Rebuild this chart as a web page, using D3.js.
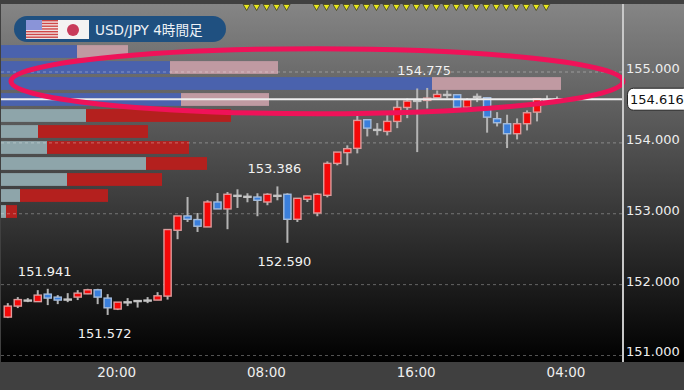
<!DOCTYPE html>
<html>
<head>
<meta charset="utf-8">
<script src="https://cdn.jsdelivr.net/npm/d3@7"></script>
<style>
  html, body { margin: 0; padding: 0; background: #3d3d3d; overflow: hidden; }
  svg { display: block; }
  text { font-family: "DejaVu Sans", "Noto Sans CJK JP", sans-serif; }
</style>
</head>
<body>
<div id="chart"></div>
<script>
// candles, oldest first
var opens = [151.542,151.697,151.782,151.760,151.866,151.824,151.796,151.824,151.870,151.927,151.810,151.655,151.757,151.775,151.782,151.782,151.838,152.767,152.969,152.918,152.814,153.166,153.068,153.260,153.246,153.236,153.166,153.260,153.275,152.922,153.204,153.011,153.260,153.711,153.862,153.923,154.327,154.190,154.162,154.303,154.500,154.599,154.599,154.637,154.683,154.679,154.504,154.655,154.637,154.341,154.270,154.129,154.270,154.434,154.613,154.616];
var highs = [151.739,151.824,151.810,151.922,151.941,151.852,151.880,151.922,151.941,151.941,151.866,151.753,151.810,151.782,151.824,151.894,152.777,152.969,153.236,153.011,153.190,153.293,153.307,153.345,153.289,153.289,153.289,153.386,153.289,153.218,153.251,153.289,153.739,153.870,153.965,154.387,154.327,154.279,154.401,154.599,154.627,154.768,154.775,154.739,154.739,154.679,154.631,154.697,154.645,154.434,154.397,154.345,154.458,154.627,154.669,154.655];
var lows = [151.528,151.669,151.753,151.760,151.711,151.725,151.753,151.782,151.866,151.725,151.572,151.641,151.697,151.676,151.739,151.782,151.789,152.641,152.884,152.743,152.814,153.068,152.782,153.082,153.162,152.965,153.120,153.190,152.590,152.884,153.166,152.965,153.232,153.683,153.683,153.852,154.091,154.105,154.105,154.208,154.349,153.870,154.486,154.637,154.627,154.504,154.482,154.575,154.144,154.232,153.927,154.049,154.176,154.303,154.538,154.599];
var closes = [151.697,151.789,151.782,151.852,151.810,151.782,151.796,151.880,151.927,151.824,151.673,151.753,151.757,151.775,151.782,151.842,152.777,152.969,152.922,152.824,153.166,153.068,153.275,153.260,153.246,153.190,153.275,153.260,152.922,153.218,153.251,153.275,153.711,153.870,153.918,154.317,154.208,154.190,154.303,154.500,154.589,154.599,154.631,154.683,154.683,154.504,154.608,154.655,154.363,154.284,154.129,154.270,154.425,154.622,154.613,154.616];

// order book bars, top row first
var buyDepth = [76,169,431,180,85,37,46,145,66,19,5];
var sellDepth = [51,108,129,88,145,110,142,61,95,88,11];
var rowsAbovePrice = 4;

var priceTicks = [155,154,153,152,151];
var timeTickIdx = [11,26,41,56];
var timeTickLabels = ["20:00","08:00","16:00","04:00"];
var currentPrice = 154.616;

// high / low call-outs
var calloutIdx = [42,27,28,4,10];
var calloutPrice = [154.775,153.386,152.590,151.941,151.572];
var calloutIsHigh = [true,true,false,true,false];

// candles with the yellow marker on top
var markerIdx = [24,25,26,27,28,31,32,33,34,35,36,37,38,39,40,41,42,43,44,45,46,47,48,49,50,51,52,53,54];

var width = 684, height = 390,
  plotTop = 4, plotBottom = 362, axisX = 623;

var svg = d3.select("#chart").append("svg")
  .attr("width", width)
  .attr("height", height);

var y = d3.scaleLinear().domain([155, 151]).range([72, 355.5]);
var x = d3.scaleLinear().domain([0, 56]).range([7.8, 567]);
var depthX = d3.scaleLinear().domain([0, 600]).range([1, 601]);
var rowY = d3.scaleBand().domain(d3.range(buyDepth.length)).range([43.5, 219.5]).paddingInner(0.2).paddingOuter(0.1);

var defs = svg.append("defs");
var bg = defs.append("linearGradient").attr("id", "bg").attr("x1", 0).attr("y1", 0).attr("x2", 0).attr("y2", 1);
bg.append("stop").attr("offset", "0%").attr("stop-color", "#858585");
bg.append("stop").attr("offset", "100%").attr("stop-color", "#000");

svg.append("rect").attr("width", width).attr("height", height).attr("fill", "#404040");
svg.append("rect").attr("x", 1).attr("y", plotTop).attr("width", width - 1).attr("height", plotBottom - plotTop).attr("fill", "url(#bg)");

// order book
var rows = svg.append("g");
rows.selectAll(".buy").data(buyDepth).enter().append("rect")
  .attr("class", "buy")
  .attr("x", depthX(0))
  .attr("y", function(d, i) { return rowY(i); })
  .attr("width", function(d) { return depthX(d) - depthX(0); })
  .attr("height", rowY.bandwidth())
  .attr("fill", function(d, i) { return i < rowsAbovePrice ? "#4a62ad" : "#8ea5aa"; });
rows.selectAll(".sell").data(sellDepth).enter().append("rect")
  .attr("class", "sell")
  .attr("x", function(d, i) { return depthX(buyDepth[i]); })
  .attr("y", function(d, i) { return rowY(i); })
  .attr("width", function(d) { return depthX(d) - depthX(0); })
  .attr("height", rowY.bandwidth())
  .attr("fill", function(d, i) { return i < rowsAbovePrice ? "#c09aa2" : "#b4201e"; });

// grid
svg.append("g").selectAll("line").data(priceTicks).enter().append("line")
  .attr("x1", 1).attr("x2", axisX)
  .attr("y1", function(d) { return y(d); })
  .attr("y2", function(d) { return y(d); })
  .attr("stroke", "#fff")
  .attr("stroke-opacity", 0.32)
  .attr("stroke-dasharray", "3,3");

// candles
var candle = svg.append("g").selectAll("g").data(d3.range(opens.length)).enter().append("g");
candle.append("line")
  .attr("x1", function(i) { return x(i); })
  .attr("x2", function(i) { return x(i); })
  .attr("y1", function(i) { return y(highs[i]); })
  .attr("y2", function(i) { return y(lows[i]); })
  .attr("stroke", "#b4b4b4")
  .attr("stroke-width", 2);
candle.append("rect")
  .attr("x", function(i) { return x(i) - 3.6; })
  .attr("width", 7.2)
  .attr("y", function(i) { return y(Math.max(opens[i], closes[i])); })
  .attr("height", function(i) { return Math.max(1, Math.abs(y(opens[i]) - y(closes[i]))); })
  .attr("fill", function(i) {
    if (opens[i] == closes[i]) return "#c4c4c4";
    return closes[i] > opens[i] ? "#f50808" : "#3a7fdc";
  })
  .attr("stroke", function(i) {
    if (opens[i] == closes[i]) return "#c4c4c4";
    return closes[i] > opens[i] ? "#dc9c9c" : "#a4bcdc";
  })
  .attr("stroke-width", 1.4);

// current price line
svg.append("line")
  .attr("x1", 1).attr("x2", axisX)
  .attr("y1", y(currentPrice)).attr("y2", y(currentPrice))
  .attr("stroke", "#eee")
  .attr("stroke-width", 2);

// circled area
svg.append("ellipse")
  .attr("cx", (11 + axisX) / 2)
  .attr("cy", y(154.87))
  .attr("rx", (axisX - 11) / 2)
  .attr("ry", 32.5)
  .attr("fill", "none")
  .attr("stroke", "#ef1259")
  .attr("stroke-width", 5);

// axes
svg.append("line")
  .attr("x1", axisX).attr("x2", axisX)
  .attr("y1", plotTop).attr("y2", plotBottom)
  .attr("stroke", "#c8c8c8")
  .attr("stroke-width", 2);

var yAxis = d3.axisRight(y).tickValues(priceTicks).tickSize(0).tickPadding(3).tickFormat(d3.format(".3f"));
var gy = svg.append("g").attr("transform", "translate(" + axisX + ",0)").call(yAxis);
gy.select(".domain").remove();
gy.selectAll("text").attr("fill", "#eee").attr("dy", "0.03em").style("font-size", "13px");

var xAxis = d3.axisBottom(x).tickValues(timeTickIdx).tickSize(0).tickPadding(0)
  .tickFormat(function(d, i) { return timeTickLabels[i]; });
var gx = svg.append("g").attr("transform", "translate(-1.5,367.5)").call(xAxis);
gx.select(".domain").remove();
gx.selectAll("text").attr("fill", "#eee").style("font-size", "13.5px");

// price tag
svg.append("rect")
  .attr("x", 627.5).attr("y", y(currentPrice) - 11)
  .attr("width", 62).attr("height", 22)
  .attr("rx", 6)
  .attr("fill", "#fff")
  .attr("stroke", "#222");
svg.append("text")
  .text(d3.format(".3f")(currentPrice))
  .attr("x", 630)
  .attr("y", y(currentPrice) + 5)
  .attr("fill", "#111")
  .style("font-size", "13px");

// call-outs
svg.append("g").selectAll("text").data(calloutIdx).enter().append("text")
  .text(function(d, i) { return d3.format(".3f")(calloutPrice[i]); })
  .attr("x", function(d) { return x(d) - 3; })
  .attr("y", function(d, i) { return y(calloutPrice[i]) + (calloutIsHigh[i] ? -13 : 23.5); })
  .attr("text-anchor", "middle")
  .attr("fill", "#f2f2f2")
  .style("font-size", "13px");

// yellow markers
svg.append("g").selectAll("path").data(markerIdx).enter().append("path")
  .attr("d", "M-3.5,-2.5L3.5,-2.5L0,3.5Z")
  .attr("transform", function(d) { return "translate(" + (x(d) - 0.8) + ",7)"; })
  .attr("fill", "#e8e820")
  .attr("stroke", "#3a3a20")
  .attr("stroke-width", 0.8);

// title pill
var title = svg.append("g");
title.append("rect")
  .attr("x", 14).attr("y", 16)
  .attr("width", 212).attr("height", 26)
  .attr("rx", 13)
  .attr("fill", "#1f5080");
var stripes = d3.range(7);
title.append("rect").attr("x", 26).attr("y", 20).attr("width", 32).attr("height", 19).attr("fill", "#f0e4e4");
title.selectAll(".stripe").data(stripes).enter().append("rect")
  .attr("class", "stripe")
  .attr("x", 26)
  .attr("y", function(d) { return 20 + d * 2.75; })
  .attr("width", 32)
  .attr("height", 1.4)
  .attr("fill", "#d04848");
title.append("rect").attr("x", 26).attr("y", 20).attr("width", 16).attr("height", 10).attr("fill", "#8a94d8");
title.append("rect").attr("x", 58).attr("y", 20).attr("width", 31).attr("height", 19).attr("fill", "#f4f2f2");
title.append("circle").attr("cx", 73).attr("cy", 30).attr("r", 6).attr("fill", "#c83a5a");
title.append("text")
  .text("USD/JPY 4時間足")
  .attr("x", 95)
  .attr("y", 34.5)
  .attr("fill", "#eef2f6")
  .style("font-size", "13.6px");
</script>
</body>
</html>
